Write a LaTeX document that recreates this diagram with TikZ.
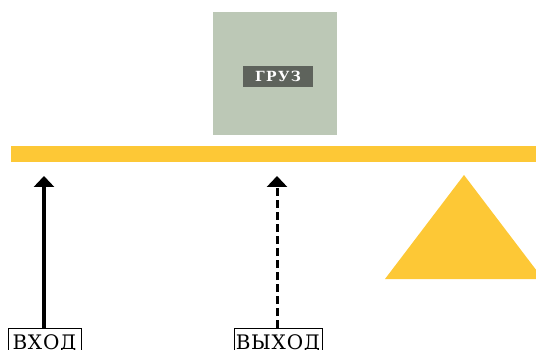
\documentclass[tikz,border=0pt]{standalone}
\usepackage{fontspec}
\setmainfont{DejaVu Serif}
\newfontfamily\lblfont[LetterSpace=4]{DejaVu Serif}
\newfontfamily\tagfont[LetterSpace=10]{DejaVu Serif}
\usetikzlibrary{arrows.meta}
\definecolor{loadgreen}{HTML}{BCC8B6}
\definecolor{tagdark}{HTML}{5E635C}
\definecolor{beamyellow}{HTML}{FDC836}
\tikzset{
  iolabel/.style={draw=black, line width=0.6pt, fill=white, inner xsep=0pt, inner ysep=0pt, anchor=north, minimum height=30pt, text height=20pt, text depth=8pt, font=\lblfont\fontsize{20}{22}\selectfont},
  forcearrow/.style={-{Triangle[length=11pt,width=20pt]}, shorten >=14pt},
}
\begin{document}
\begin{tikzpicture}[x=1pt,y=-1pt]
\useasboundingbox (0,0) rectangle (536,350);
\clip (0,0) rectangle (536,350);
% load
\node[fill=loadgreen, minimum width=124pt, minimum height=123pt, inner sep=0pt, anchor=north west] (load) at (213,12) {};
\node[fill=tagdark, text=white, minimum width=70pt, minimum height=21pt, inner sep=0pt, font=\tagfont\bfseries\fontsize{14}{16}\selectfont] (tag) at (278,76.5) {ГРУЗ};
% beam
\node[fill=beamyellow, minimum width=525pt, minimum height=16pt, inner sep=0pt, anchor=north west] (beam) at (11,146) {};
% fulcrum
\fill[beamyellow] (464,175) -- (385,279) -- (543,279) -- cycle;
% labels
\node[iolabel, minimum width=73pt] (in) at (44.5,328) {ВХОД};
\node[iolabel, minimum width=88pt] (out) at (278,328) {ВЫХОД};
\coordinate (inTop) at (44,162);
\coordinate (outTop) at (277,162);
\draw[forcearrow, line width=4pt] (in.north -| inTop) -- (inTop);
\draw[forcearrow, line width=3pt, dash pattern=on 8pt off 4pt] (out.north -| outTop) -- (outTop);
\end{tikzpicture}
\end{document}
